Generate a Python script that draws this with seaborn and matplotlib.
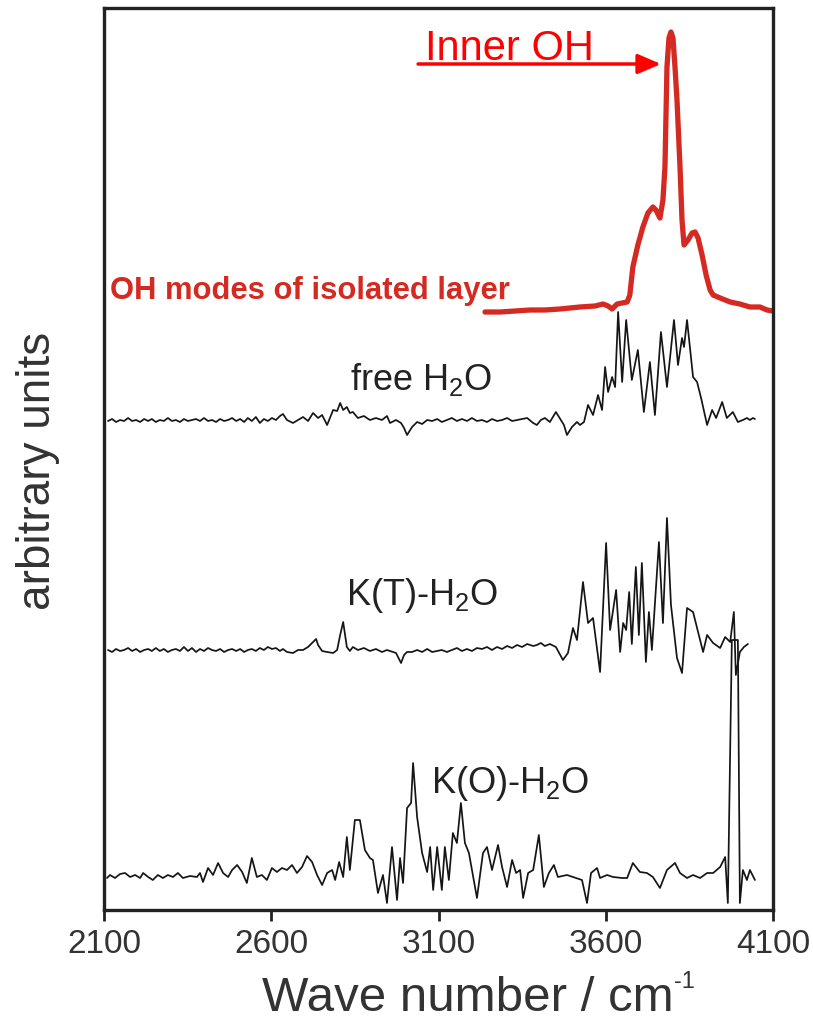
import numpy as np
import pandas as pd
import matplotlib
matplotlib.use("Agg")
import matplotlib.pyplot as plt
import seaborn as sns

# ---------------- data (wavenumber in cm^-1, intensity in arbitrary units) ----------------
red_wn = [3239, 3284, 3329, 3374, 3418, 3463, 3523, 3568, 3592, 3607, 3619, 3634, 3649, 3664,
          3672, 3681, 3696, 3711, 3726, 3741, 3750, 3762, 3771, 3777, 3783, 3789, 3795, 3801,
          3807, 3813, 3822, 3828, 3834, 3846, 3858, 3867, 3876, 3888, 3900, 3912, 3921, 3942,
          3972, 4001, 4031, 4061, 4082, 4100]
red_int = [-2, -2, -1, 0, 0, 1, 3, 4, 6, 4, 1, 6, 7, 8,
           15, 43, 65, 83, 97, 103, 100, 92, 110, 143, 243, 272, 278, 272,
           243, 210, 143, 90, 65, 70, 77, 78, 72, 55, 35, 20, 15, 12,
           8, 6, 3, 3, 0, -1]

free_wn = [2112, 2124, 2136, 2148, 2160, 2172, 2184, 2196, 2208, 2220, 2232, 2243, 2255, 2267,
           2279, 2291, 2303, 2315, 2327, 2339, 2351, 2363, 2375, 2387, 2399, 2411, 2423, 2435,
           2447, 2459, 2471, 2483, 2495, 2507, 2519, 2530, 2542, 2554, 2566, 2578, 2590, 2602,
           2614, 2626, 2635, 2647, 2665, 2680, 2695, 2710, 2725, 2740, 2752, 2767, 2785, 2797,
           2806, 2815, 2826, 2835, 2844, 2859, 2877, 2895, 2913, 2931, 2946, 2955, 2973, 2988,
           2997, 3006, 3021, 3036, 3051, 3066, 3081, 3096, 3110, 3125, 3140, 3155, 3170, 3185,
           3200, 3215, 3230, 3245, 3260, 3275, 3290, 3305, 3320, 3335, 3350, 3365, 3383, 3394,
           3406, 3418, 3433, 3451, 3466, 3475, 3484, 3499, 3514, 3523, 3535, 3547, 3562, 3577,
           3589, 3598, 3607, 3619, 3628, 3637, 3649, 3661, 3678, 3696, 3714, 3732, 3747, 3765,
           3783, 3804, 3816, 3828, 3834, 3843, 3861, 3873, 3885, 3903, 3918, 3930, 3948, 3962,
           3980, 3995, 4010, 4022, 4031, 4040, 4046]
free_int = [-1, 1, -2, 0, -1, 2, -1, 0, -2, 1, -1, 1, -2, 0,
            -1, 2, -1, 0, -2, 1, -1, 0, 1, -1, 2, -1, 0, -2,
            1, -1, 0, 2, -1, 1, -2, 2, -1, 3, -3, 1, -1, 2,
            0, 4, 6, 0, -3, 0, 3, -1, 7, 2, 5, -5, 10, 9,
            17, 10, 13, 7, 8, 2, 4, 0, 2, 0, 4, -3, 0, -3,
            -8, -15, -7, -2, -4, 0, -1, 1, -2, 0, 2, -1, 1, -1,
            2, -1, 0, -2, 1, -1, 0, 2, -1, 0, 1, 2, -3, -5,
            0, 2, -2, 8, 0, -5, -15, -7, -2, -5, -2, 15, 5, 25,
            10, 53, 28, 43, 33, 108, 38, 100, 40, 70, 8, 58, 5, 88,
            33, 100, 55, 82, 73, 100, 43, 38, 22, -5, 10, 2, 18, 2,
            8, -2, 0, 2, 0, 2, 1]

kt_wn = [2112, 2124, 2136, 2148, 2160, 2172, 2184, 2196, 2208, 2220, 2232, 2243, 2255, 2267,
         2279, 2291, 2303, 2315, 2327, 2339, 2351, 2363, 2375, 2387, 2399, 2411, 2423, 2435,
         2447, 2459, 2471, 2483, 2495, 2507, 2519, 2530, 2542, 2554, 2566, 2578, 2590, 2602,
         2614, 2626, 2635, 2647, 2665, 2680, 2695, 2710, 2725, 2734, 2740, 2752, 2767, 2785,
         2797, 2806, 2815, 2826, 2835, 2844, 2859, 2877, 2895, 2913, 2931, 2946, 2955, 2973,
         2988, 2997, 3006, 3021, 3036, 3051, 3066, 3081, 3096, 3110, 3125, 3140, 3155, 3170,
         3185, 3200, 3215, 3230, 3245, 3260, 3275, 3290, 3305, 3320, 3335, 3350, 3365, 3383,
         3394, 3406, 3418, 3433, 3451, 3472, 3487, 3502, 3514, 3532, 3547, 3562, 3583, 3601,
         3613, 3631, 3643, 3652, 3661, 3670, 3678, 3690, 3699, 3708, 3720, 3729, 3738, 3759,
         3771, 3783, 3795, 3813, 3828, 3843, 3861, 3876, 3891, 3903, 3921, 3942, 3957, 3972,
         3983, 3989, 4001, 4013, 4025]
kt_int = [0, -2, 1, -1, 0, 2, -1, 1, -2, 0, 1, -1, 2, -1,
          1, -2, 0, 1, -1, 3, -1, 2, -2, 1, -1, 2, 0, -1,
          1, -2, 0, 1, -1, 1, -2, 0, 1, -1, 2, 0, 3, 1,
          2, -1, 1, -2, -3, 0, 0, 3, 8, 11, 5, -1, -2, -3,
          0, 15, 28, 3, -1, 3, 0, 2, -1, 1, -2, 0, -1, -3,
          -13, -5, -2, -2, 0, -2, 1, -2, -1, 0, -2, 0, 2, -1,
          1, -1, 2, 1, 3, 0, 3, 1, 4, 2, 5, 3, 6, 4,
          5, 7, 4, 6, 3, -10, -3, 22, 10, 68, 27, 32, -22, 107,
          20, 60, -2, 27, 20, 58, 6, 83, 15, 87, -12, 38, 0, 108,
          27, 132, 45, -8, -23, 42, 38, 18, -2, 15, 7, 2, 13, 8,
          38, -25, -2, 3, 6]

ko_wn = [2109, 2118, 2133, 2148, 2163, 2178, 2193, 2208, 2217, 2232, 2246, 2261, 2276, 2291,
         2306, 2321, 2336, 2357, 2378, 2387, 2396, 2411, 2426, 2441, 2456, 2471, 2483, 2498,
         2513, 2527, 2542, 2557, 2572, 2587, 2602, 2617, 2632, 2647, 2662, 2677, 2692, 2707,
         2722, 2737, 2752, 2767, 2782, 2791, 2803, 2815, 2826, 2835, 2850, 2865, 2880, 2895,
         2904, 2919, 2934, 2946, 2961, 2976, 2985, 2994, 3006, 3018, 3024, 3036, 3051, 3066,
         3075, 3084, 3096, 3110, 3119, 3131, 3143, 3155, 3167, 3179, 3191, 3215, 3233, 3245,
         3260, 3278, 3290, 3305, 3320, 3332, 3344, 3353, 3368, 3383, 3400, 3415, 3430, 3445,
         3457, 3484, 3502, 3529, 3544, 3556, 3574, 3583, 3604, 3622, 3649, 3664, 3681, 3702,
         3723, 3741, 3762, 3783, 3807, 3822, 3843, 3861, 3882, 3903, 3921, 3942, 3957, 3965,
         3977, 3995, 4001, 4010, 4022, 4031, 4046]
ko_int = [-1, 2, -1, 3, 4, 0, 2, -1, 4, 0, -3, 2, -1, 2,
          0, 4, -1, 1, 0, 4, -5, 9, 2, 14, 4, 0, 7, 12,
          5, -6, 19, 0, 2, -3, 9, 5, 9, 7, 12, 4, 10, 21,
          15, 2, -8, 4, 7, -3, 15, 0, 40, 7, 57, 57, 27, 19,
          17, -16, 2, -26, 30, -23, 19, -6, 69, 74, 114, 60, 24, 5,
          30, -13, 30, -13, 30, -3, 44, 34, 74, 34, 24, -21, 24, 30,
          7, 32, 10, -10, 17, 4, 7, -21, 4, 7, 42, -10, 4, 12,
          0, 2, 0, -3, -26, 4, 9, -1, 2, 0, -1, -1, 14, 5,
          4, 0, -11, 7, 14, 4, -1, 2, -1, 4, 4, 10, 20, -26,
          237, 237, -26, 7, -3, 7, -3]

offsets = {"red": 600, "free": 490, "kt": 260, "ko": 33}
labels = ["free H$_2$O", "K(T)-H$_2$O", "K(O)-H$_2$O"]
xticks = [2100, 2600, 3100, 3600, 4100]

# ---------------- style ----------------
sns.set_theme(style="white")
plt.rcParams["font.family"] = ["Liberation Sans", "DejaVu Sans"]
plt.rcParams["mathtext.fontset"] = "custom"
plt.rcParams["mathtext.rm"] = "Liberation Sans"
plt.rcParams["mathtext.it"] = "Liberation Sans:italic"
plt.rcParams["mathtext.default"] = "regular"

fig = plt.figure(figsize=(8.13, 10.23), dpi=100)
ax = fig.add_axes([104 / 813, 1 - 910 / 1023, 669 / 813, 902 / 1023])

def frame(wn, inten, off):
    return pd.DataFrame({"wn": wn, "y": np.asarray(inten) + off})

blk = "#151515"
for wn, it, key in [(free_wn, free_int, "free"), (kt_wn, kt_int, "kt"), (ko_wn, ko_int, "ko")]:
    sns.lineplot(data=frame(wn, it, offsets[key]), x="wn", y="y", ax=ax, sort=False,
                 estimator=None, color=blk, lw=1.25, solid_joinstyle="round")
sns.lineplot(data=frame(red_wn, red_int, offsets["red"]), x="wn", y="y", ax=ax, sort=False,
             estimator=None, color="#d42a22", lw=3.8, solid_capstyle="round",
             solid_joinstyle="round")

ax.set_xlim(2100, 4100)
ax.set_ylim(0, 902)
ax.set_xticks(xticks)
ax.set_xticklabels([str(t) for t in xticks], fontsize=24, color="#333333")
ax.set_yticks([])
ax.set_xlabel("")
ax.set_ylabel("")
ax.tick_params(axis="x", direction="out", length=8, width=2, color="#222222", pad=6, bottom=True)
for s in ax.spines.values():
    s.set_linewidth(2.4)
    s.set_color("#222222")

# labels of traces
ax.text(2835, 520, labels[0], fontsize=26, color="#222222", ha="left", va="baseline")
ax.text(2822, 305, labels[1], fontsize=26, color="#222222", ha="left", va="baseline")
ax.text(3078, 117, labels[2], fontsize=26, color="#222222", ha="left", va="baseline")
ax.text(2118, 611, "OH modes of isolated layer", fontsize=22.3, fontweight="bold",
        color="#d42a22", ha="left", va="baseline")

ax.text(3060, 850, "Inner OH", fontsize=30, color="#ff0000", ha="left", va="baseline")
ax.annotate("", xy=(3765, 846), xytext=(3039, 846),
            arrowprops=dict(arrowstyle="-|>,head_length=0.7,head_width=0.3",
                            color="#ff0000", lw=2.5, mutation_scale=20, shrinkA=0, shrinkB=0))

fig.text(38 / 813, 1 - 471 / 1023, "arbitrary units", rotation=90, fontsize=33,
         color="#333333", ha="center", va="center")
xl = fig.text(262 / 813, 1 - 1011 / 1023, "Wave number / cm", fontsize=35.5,
              color="#333333", ha="left", va="baseline")
plt.annotate("-1", xy=(1.0, 0.62), xycoords=xl, fontsize=17, color="#333333",
             ha="left", va="bottom", annotation_clip=False)

fig.savefig("out.png", dpi=100)
